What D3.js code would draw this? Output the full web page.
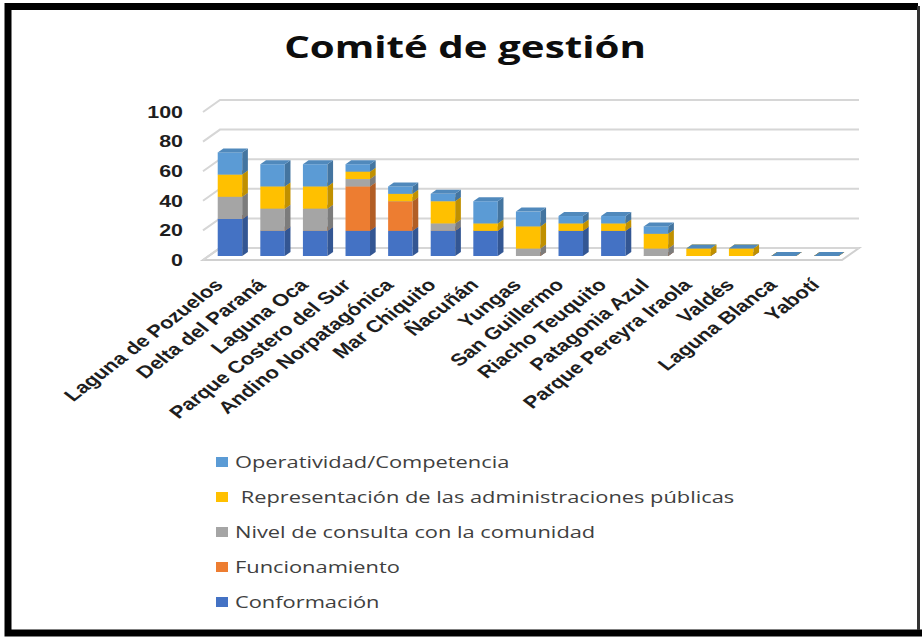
<!DOCTYPE html>
<html lang="es">
<head>
<meta charset="utf-8">
<title>Comité de gestión</title>
<script src="https://cdn.jsdelivr.net/npm/d3@7"></script>
<style>
  body { margin: 0; background: #fff; }
  .tick-label, .cat-label {
    font-family: "Liberation Sans", Arial, sans-serif;
    font-weight: bold;
    font-size: 16.5px;
    fill: #1e1e1e;
  }
  .cat-label { font-size: 17px; }
  .title {
    font-family: "Open Sans", sans-serif;
    font-weight: bold;
    font-size: 31px;
    fill: #0d0d0d;
  }
  .legend-text {
    font-family: "Open Sans", sans-serif;
    font-size: 16.8px;
    fill: #404040;
    white-space: pre;
  }
</style>
</head>
<body>
<script>
// Data
var categories = ["Laguna de Pozuelos", "Delta del Paraná", "Laguna Oca", "Parque Costero del Sur",
  "Andino Norpatagónica", "Mar Chiquito", "Ñacuñán", "Yungas", "San Guillermo", "Riacho Teuquito",
  "Patagonia Azul", "Parque Pereyra Iraola", "Valdés", "Laguna Blanca", "Yabotí"];

var seriesNames = ["Conformación", "Funcionamiento", "Nivel de consulta con la comunidad",
  " Representación de las administraciones públicas", "Operatividad/Competencia"];

var conformacion   = [25, 17, 17, 17, 17, 17, 17, 0, 17, 17, 0, 0, 0, 0, 0];
var funcionamiento = [0, 0, 0, 30, 20, 0, 0, 0, 0, 0, 0, 0, 0, 0, 0];
var nivelConsulta  = [15, 15, 15, 5, 0, 5, 0, 5, 0, 0, 5, 0, 0, 0, 0];
var representacion = [15, 15, 15, 5, 5, 15, 5, 15, 5, 5, 10, 5, 5, 0, 0];
var operatividad   = [15, 15, 15, 5, 5, 5, 15, 10, 5, 5, 5, 0, 0, 0, 0];

var yTicks = [0, 20, 40, 60, 80, 100];

var seriesColors = ["#4472c4", "#ed7d31", "#a5a5a5", "#ffc000", "#5b9bd5"];

// Settings
var w = 922, h = 637;
var sx = 1.3;            // the picture is stretched sideways
var depth = [17, -12];   // floor depth vector

var allSeries = [conformacion, funcionamiento, nivelConsulta, representacion, operatividad];
var table = categories.map(function (c, i) {
  var row = { cat: c };
  seriesNames.forEach(function (s, k) { row[s] = allSeries[k][i]; });
  return row;
});

var svg = d3.select("body").append("svg")
  .attr("width", w)
  .attr("height", h);

// frame: heavy on top, left and bottom, thin on the right
svg.append("rect")
  .attr("x", 0).attr("y", 0)
  .attr("width", w).attr("height", h)
  .attr("fill", "#fff");
svg.append("path")
  .attr("d", "M918,6.5 L8,6.5 L8,633 L922,633")
  .attr("fill", "none")
  .attr("stroke", "#000")
  .attr("stroke-width", 7);
svg.append("path")
  .attr("d", "M918.5,6 L918.5,630")
  .attr("stroke", "#333")
  .attr("stroke-width", 3);

var x = d3.scaleBand().domain(categories).range([203, 842]);
var y = d3.scaleLinear().domain([0, 100]).range([260, 112]);
var barW = x.bandwidth() * 0.575;

// title
svg.append("text")
  .attr("class", "title")
  .attr("text-anchor", "middle")
  .attr("transform", "translate(465,58) scale(" + sx + ",1)")
  .text("Comité de gestión");

// floor
var fx0 = x.range()[0], fx1 = x.range()[1], fy = y(0);
svg.append("path")
  .attr("d", "M" + fx0 + "," + fy + "L" + fx1 + "," + fy +
    "L" + (fx1 + depth[0]) + "," + (fy + depth[1]) +
    "L" + (fx0 + depth[0]) + "," + (fy + depth[1]) + "Z")
  .attr("fill", "#fff")
  .attr("stroke", "#d0d0d0")
  .attr("stroke-width", 2);

// gridlines: side wall + back wall
var grid = svg.append("g").attr("stroke", "#d6d6d6").attr("stroke-width", 2).attr("fill", "none");
grid.selectAll("path")
  .data(yTicks)
  .enter().append("path")
  .attr("d", function (d) {
    return "M" + fx0 + "," + y(d) +
      "L" + (fx0 + depth[0]) + "," + (y(d) + depth[1]) +
      "L" + (fx1 + depth[0]) + "," + (y(d) + depth[1]);
  });

// tick labels
svg.selectAll(".tick-label")
  .data(yTicks)
  .enter().append("text")
  .attr("class", "tick-label")
  .attr("text-anchor", "end")
  .attr("dy", "0.35em")
  .attr("transform", function (d) { return "translate(183," + y(d) + ") scale(" + sx + ",1)"; })
  .text(function (d) { return d; });

// bars
var stack = d3.stack().keys(seriesNames)(table);
var dx = depth[0] / 3, dy = depth[1] / 3;

stack.forEach(function (layer, k) {
  var c = d3.color(seriesColors[k]);
  var g = svg.append("g");
  layer.forEach(function (d) {
    var left = x(d.data.cat) + x.bandwidth() / 2 + dx - barW / 2;
    var right = left + barW;
    var yb = y(d[0]) + dy, yt = y(d[1]) + dy;
    if (yb - yt > 0) {
      g.append("rect")
        .attr("x", left).attr("y", yt)
        .attr("width", barW).attr("height", yb - yt)
        .attr("fill", c.formatHex());
      g.append("path")
        .attr("d", "M" + right + "," + yb + "L" + (right + dx) + "," + (yb + dy) +
          "L" + (right + dx) + "," + (yt + dy) + "L" + right + "," + yt + "Z")
        .attr("fill", c.darker(0.8).formatHex());
    }
    g.append("path")
      .attr("d", "M" + left + "," + yt + "L" + right + "," + yt +
        "L" + (right + dx) + "," + (yt + dy) + "L" + (left + dx) + "," + (yt + dy) + "Z")
      .attr("fill", c.darker(0.35).formatHex());
  });
});

// category labels
svg.selectAll(".cat-label")
  .data(categories)
  .enter().append("text")
  .attr("class", "cat-label")
  .attr("text-anchor", "end")
  .attr("transform", function (d) {
    return "translate(" + (x(d) + x.bandwidth() / 2) + ",286) scale(" + sx + ",1) rotate(-45)";
  })
  .text(function (d) { return d; });

// legend
var legend = svg.append("g");
var legendOrder = seriesNames.slice().reverse();
var ly = d3.scalePoint().domain(legendOrder).range([462, 602]);

legend.selectAll("rect")
  .data(legendOrder)
  .enter().append("rect")
  .attr("x", 216)
  .attr("y", function (d) { return ly(d) - 5; })
  .attr("width", 12).attr("height", 10)
  .attr("fill", function (d) { return seriesColors[seriesNames.indexOf(d)]; });

legend.selectAll("text")
  .data(legendOrder)
  .enter().append("text")
  .attr("class", "legend-text")
  .attr("dy", "0.35em")
  .attr("transform", function (d) { return "translate(235," + ly(d) + ") scale(" + sx + ",1)"; })
  .text(function (d) { return d; });
</script>
</body>
</html>
